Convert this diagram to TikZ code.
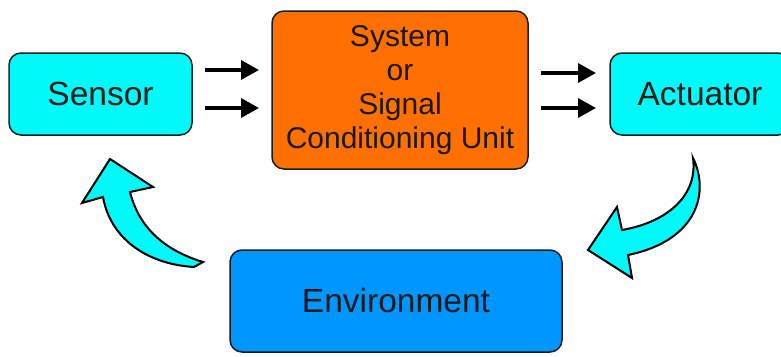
\documentclass[tikz,border=0pt]{standalone}
\usepackage{fontspec}
\setmainfont{Liberation Sans}
\usetikzlibrary{arrows.meta}
\definecolor{cyanbox}{RGB}{0,250,250}
\definecolor{orangebox}{RGB}{255,112,0}
\definecolor{bluebox}{RGB}{0,150,255}
\definecolor{edgecol}{RGB}{20,30,30}
\definecolor{txt}{RGB}{25,25,25}
\tikzset{
  box/.style={draw=edgecol, line width=1.5pt, rounded corners=12pt, inner sep=0pt, text=txt, align=center},
  sig/.style={line width=3.5pt, -{Triangle[length=18pt,width=19pt]}},
  curved/.style={fill=cyanbox, draw=black, line width=2pt, line join=miter},
}
\begin{document}
\begin{tikzpicture}[x=1pt,y=-1pt]
\useasboundingbox (0,0) rectangle (781,356);
\clip (0,0) rectangle (781,356);
% boxes
\node[box, fill=cyanbox, minimum width=183pt, minimum height=82pt, font=\fontsize{33.5}{34}\selectfont] (sensor) at (100.5,94) {Sensor};
\node[box, fill=orangebox, minimum width=256pt, minimum height=158pt, font=\fontsize{30}{34}\selectfont] (unit) at (400,90) {System\\or\\Signal\\Conditioning Unit};
\node[box, fill=cyanbox, minimum width=180pt, minimum height=82pt, font=\fontsize{33.5}{34}\selectfont] (act) at (700,94) {Actuator};
\node[box, fill=bluebox, minimum width=332pt, minimum height=102pt, font=\fontsize{33.5}{34}\selectfont] (env) at (396,301) {Environment};
% signal arrows
\coordinate (a1s) at (205,70); \coordinate (a1e) at (259,70);
\coordinate (a2s) at (205,108); \coordinate (a2e) at (259,108);
\coordinate (b1s) at (541,73); \coordinate (b1e) at (596,73);
\coordinate (b2s) at (541,108); \coordinate (b2e) at (596,108);
\draw[sig] (a1s) -- (a1e);
\draw[sig] (a2s) -- (a2e);
\draw[sig] (b1s) -- (b1e);
\draw[sig] (b2s) -- (b2e);
% curved arrow environment -> sensor
\draw[curved] (203,262) .. controls (170,252) and (140,232) .. (130,192)
  -- (153,187) -- (110,159) -- (82,203) -- (103,197)
  .. controls (110,237) and (145,264) .. (194,267) -- cycle;
% curved arrow actuator -> environment
\draw[curved] (693,158) .. controls (709,190) and (700,240) .. (628,255)
  -- (632,278) -- (588,250) -- (617,207) -- (622,230)
  .. controls (668,222) and (698,195) .. (693,158) -- cycle;
\end{tikzpicture}
\end{document}
